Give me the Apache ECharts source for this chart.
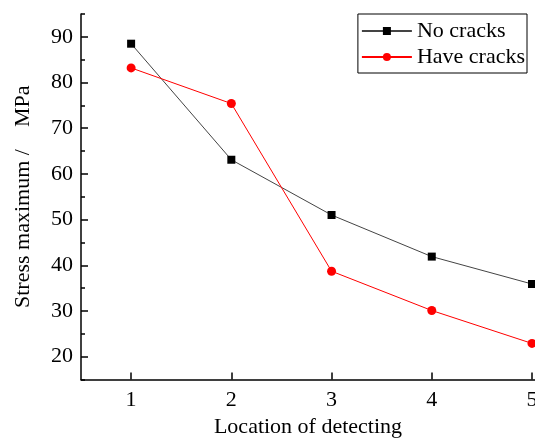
<!DOCTYPE html>
<html>
<head>
<meta charset="utf-8">
<script src="https://cdn.jsdelivr.net/npm/echarts@6/dist/echarts.min.js"></script>
<style>
  html, body { margin: 0; padding: 0; background: #fff; }
  #main { width: 535px; height: 445px; }
</style>
</head>
<body>
<div id="main"></div>
<script>
var locations = [1, 2, 3, 4, 5];
var noCracks = [88.5, 63.1, 51.0, 41.9, 35.9];
var haveCracks = [83.2, 75.4, 38.7, 30.1, 22.9];
var yMajor = [20, 30, 40, 50, 60, 70, 80, 90];
var yMinor = [15, 25, 35, 45, 55, 65, 75, 85, 95];

var font = "Liberation Serif";
var myChart = echarts.init(document.getElementById("main"));

function pairs(vals) {
  return locations.map(function (x, i) { return [x, vals[i]]; });
}

var option = {
  backgroundColor: "#fff",
  animation: false,
  grid: { left: 81, top: 14, right: 0, bottom: 65.5, containLabel: false, outerBoundsMode: "none" },
  legend: {
    orient: "vertical",
    right: 8,
    top: 14,
    padding: [6, 2, 5, 3],
    itemGap: 4,
    itemWidth: 50,
    itemHeight: 10,
    borderColor: "#000",
    borderWidth: 1,
    borderRadius: 0,
    textStyle: { fontFamily: font, fontSize: 22, color: "#000" },
    data: ["No cracks", "Have cracks"]
  },
  xAxis: {
    type: "value",
    min: 0.5,
    max: 5.03,
    name: "Location of detecting",
    nameLocation: "middle",
    nameGap: 36,
    nameTextStyle: { fontFamily: font, fontSize: 22, color: "#000" },
    axisLine: { show: true, onZero: false, lineStyle: { color: "#000", width: 1.5 } },
    axisTick: { show: true, inside: true, length: 7, customValues: locations, lineStyle: { color: "#000", width: 1.5 } },
    axisLabel: { customValues: locations, fontFamily: font, fontSize: 22, color: "#000", margin: 10 },
    splitLine: { show: false }
  },
  yAxis: [
    {
      type: "value",
      min: 15,
      max: 95,
      name: "Stress maximum /    MPa",
      nameLocation: "middle",
      nameGap: 47,
      nameTextStyle: { fontFamily: font, fontSize: 22, color: "#000" },
      axisLine: { show: true, onZero: false, lineStyle: { color: "#000", width: 1.5 } },
      axisTick: { show: true, inside: true, length: 7, customValues: yMajor, lineStyle: { color: "#000", width: 1.5 } },
      axisLabel: { customValues: yMajor, fontFamily: font, fontSize: 22, color: "#000", margin: 8 },
      splitLine: { show: false }
    },
    {
      type: "value",
      min: 15,
      max: 95,
      position: "left",
      axisLine: { show: false },
      axisTick: { show: true, inside: true, length: 4, customValues: yMinor, lineStyle: { color: "#000", width: 1.5 } },
      axisLabel: { show: false },
      splitLine: { show: false }
    }
  ],
  series: [
    {
      name: "No cracks",
      type: "line",
      symbol: "rect",
      symbolSize: 8,
      color: "#000",
      lineStyle: { color: "#444", width: 1 },
      itemStyle: { color: "#000" },
      data: pairs(noCracks)
    },
    {
      name: "Have cracks",
      type: "line",
      symbol: "circle",
      symbolSize: 9,
      color: "#ff0000",
      lineStyle: { color: "#ff0000", width: 1 },
      itemStyle: { color: "#ff0000" },
      data: pairs(haveCracks)
    }
  ]
};

myChart.setOption(option);
</script>
</body>
</html>
